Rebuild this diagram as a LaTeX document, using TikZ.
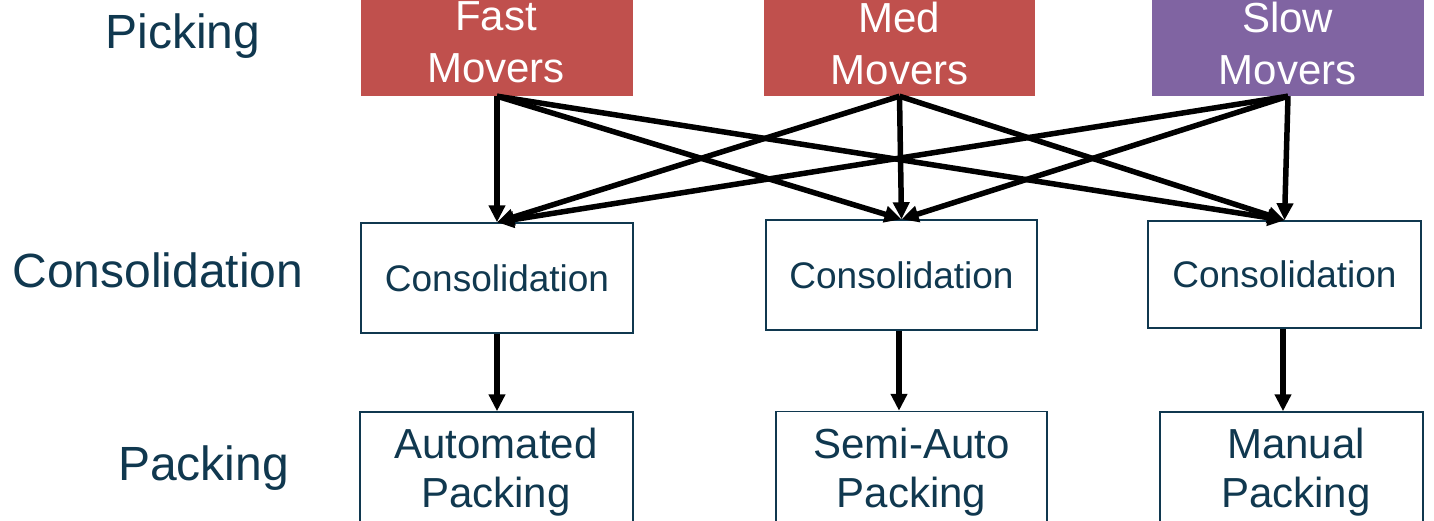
\documentclass[tikz,border=0pt]{standalone}
\usepackage{fontspec}
\setmainfont{Liberation Sans}
\usetikzlibrary{arrows.meta}
\definecolor{navy}{RGB}{16,56,79}
\definecolor{fastred}{RGB}{192,80,77}
\definecolor{slowpurple}{RGB}{128,100,162}
\begin{document}
\begin{tikzpicture}[x=1pt,y=-1pt,
 topbox/.style={draw=none, minimum width=272pt, minimum height=110pt, inner sep=0pt},
 toptxt/.style={text=white, font=\fontsize{42}{52}\selectfont, align=center, anchor=north, inner sep=0pt},
 consbox/.style={draw=navy, line width=1.5pt, minimum width=272pt, minimum height=110pt, text=navy, font=\fontsize{37}{44}\selectfont, inner sep=0pt},
 packbox/.style={draw=navy, line width=1.5pt, minimum width=272pt, minimum height=130pt, inner sep=0pt},
 packtxt/.style={text=navy, font=\fontsize{42}{49}\selectfont, align=center, anchor=north, inner sep=0pt},
 rowlabel/.style={text=navy, font=\fontsize{48}{56}\selectfont, anchor=base, inner sep=0pt},
 flow/.style={line width=5.5pt, -{Triangle[length=17pt,width=16pt]}}
]
\useasboundingbox[fill=white] (0,0) rectangle (1434,520);

% row labels
\node[rowlabel] (lpick) at (183,48) {Picking};
\node[rowlabel] (lcons) at (158,287) {Consolidation};
\node[rowlabel] (lpack) at (203.5,480) {Packing};

% picking boxes
\node[topbox, fill=fastred] (fast) at (497,41) {};
\node[topbox, fill=fastred, minimum width=271pt] (med) at (899.5,41) {};
\node[topbox, fill=slowpurple] (slow) at (1288,41) {};
\node[toptxt] (fasttxt) at (496,1.5) {Fast\\Movers};
\node[toptxt] (medtxt) at (899.5,1.5) {Med\\Movers};
\node[toptxt] (slowtxt) at (1287.5,1.5) {Slow\\Movers};

% consolidation boxes
\node[consbox] (c1) at (497,278) {Consolidation};
\node[consbox, minimum width=271pt] (c2) at (901.5,275) {Consolidation};
\node[consbox, minimum width=273pt, minimum height=107pt] (c3) at (1284.5,274.5) {Consolidation};

% packing boxes
\node[packbox, minimum width=273pt] (p1) at (496.5,477) {};
\node[packbox, minimum width=271pt] (p2) at (911.5,476.5) {};
\node[packbox, minimum width=263pt] (p3) at (1291.5,477) {};
\node[packtxt] (p1txt) at (496,427.5) {Automated\\Packing};
\node[packtxt] (p2txt) at (911.5,427.5) {Semi-Auto\\Packing};
\node[packtxt] (p3txt) at (1296,427.5) {Manual\\Packing};

% connectors picking -> consolidation
\foreach \s in {fast,med,slow}{
  \foreach \t in {c1,c2,c3}{
    \draw[flow] (\s.south) -- (\t.north);
  }
}

% consolidation -> packing
\draw[flow] (c1.south) -- (c1.south |- p1.north);
\draw[flow] ([xshift=-2.5pt]c2.south) -- ([xshift=-2.5pt]c2.south |- p2.north);
\draw[flow] ([xshift=-1.5pt]c3.south) -- ([xshift=-1.5pt]c3.south |- p3.north);
\end{tikzpicture}
\end{document}
